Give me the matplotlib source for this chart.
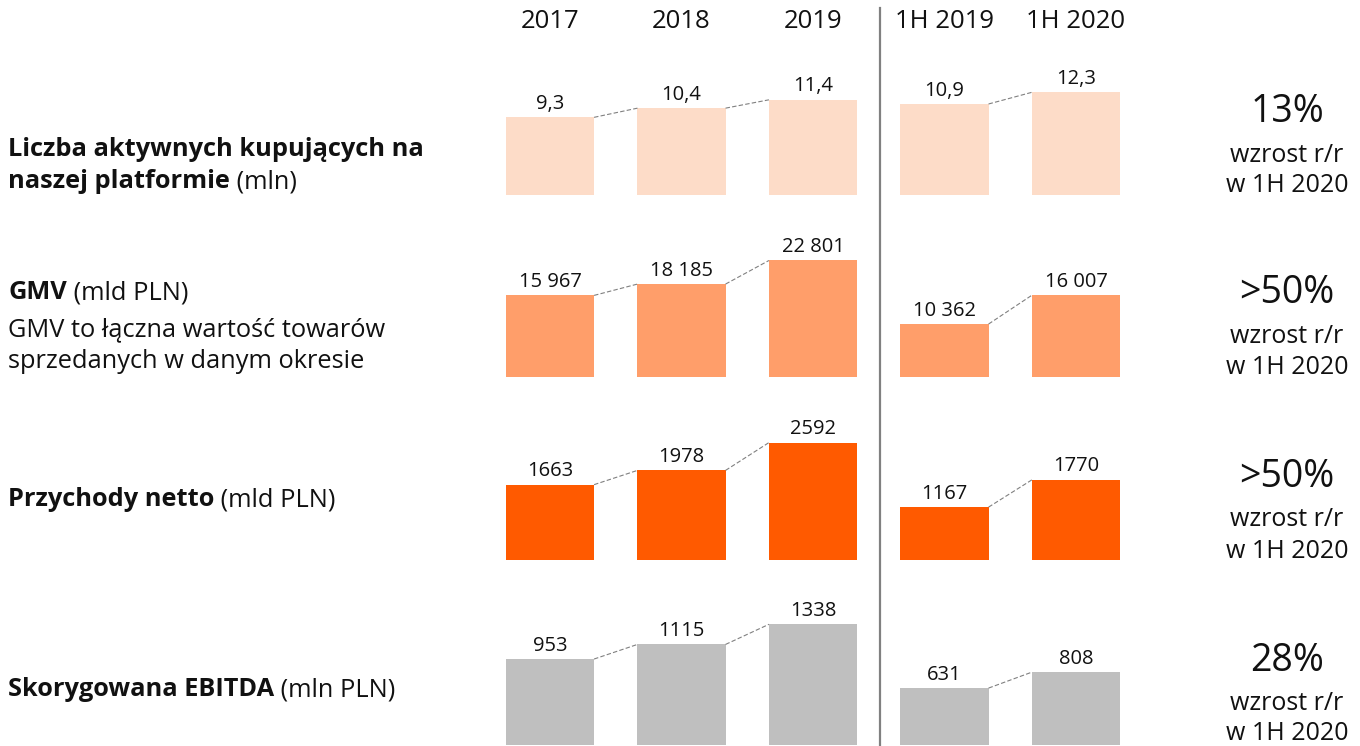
import matplotlib
matplotlib.use("Agg")
import matplotlib.pyplot as plt
from matplotlib.lines import Line2D

plt.rcParams['font.family'] = ['Open Sans', 'DejaVu Sans']

# ---- data ----
periods = ["2017", "2018", "2019", "1H 2019", "1H 2020"]
buyers = [9.3, 10.4, 11.4, 10.9, 12.3]
gmv = [15967, 18185, 22801, 10362, 16007]
revenue = [1663, 1978, 2592, 1167, 1770]
ebitda = [953, 1115, 1338, 631, 808]

row_titles_bold = ["Liczba aktywnych kupujących na\nnaszej platformie", "GMV", "Przychody netto", "Skorygowana EBITDA"]
row_titles_unit = ["(mln)", "(mld PLN)", "(mld PLN)", "(mln PLN)"]
gmv_note = ["GMV to łączna wartość towarów", "sprzedanych w danym okresie"]
growth = ["13%", ">50%", ">50%", "28%"]
growth_sub = ["wzrost r/r", "w 1H 2020"]

W, H = 1360, 746
fig = plt.figure(figsize=(W / 100, H / 100), dpi=100)

def fx(px):
    return px / W

def fy(py):
    return 1 - py / H

colors = ["#FDDCC8", "#FF9E6A", "#FF5A00", "#BFBFBF"]
series = [buyers, gmv, revenue, ebitda]
fmts = [lambda v: f"{v:.1f}".replace(".", ","),
        lambda v: f"{v:,}".replace(",", " "),
        lambda v: str(v),
        lambda v: str(v)]
bottoms_px = [195, 377, 560, 745]
scales = [8.35, 0.00511, 0.0453, 0.0902]  # px per unit
AX_H = 150
x = list(range(len(periods)))
bw = 0.67
groups = [(0, 1), (1, 2), (3, 4)]
TXT = "#111111"

for r in range(4):
    ax = fig.add_axes([fx(484.25), fy(bottoms_px[r]), fx(657.5), AX_H / H])
    ax.set_xlim(-0.5, 4.5)
    ax.set_ylim(0, AX_H / scales[r])
    ax.axis("off")
    vals = series[r]
    ax.bar(x, vals, width=bw, color=colors[r], edgecolor="none")
    for xi, v in zip(x, vals):
        ax.annotate(fmts[r](v), (xi, v), xytext=(0, 2.5), textcoords="offset points",
                    ha="center", va="bottom", fontsize=14.5, color=TXT,
                    annotation_clip=False)
    for a, b in groups:
        ax.plot([x[a] + bw / 2, x[b] - bw / 2], [vals[a], vals[b]],
                ls=(0, (4, 2)), lw=0.8, color="#808080", clip_on=False)

# period labels
for xi, p in zip(x, periods):
    cx = 550 + xi * 131.5
    fig.text(fx(cx), fy(22), p, ha="center", va="center", fontsize=18.5, color=TXT)

# divider
fig.add_artist(Line2D([fx(880), fx(880)], [fy(8), fy(746)], color="#808080", lw=1.6))

# left labels
title_y = [166, 293, 500, 690]
FS_L = 18.3
for r in range(4):
    lines = row_titles_bold[r].split("\n")
    n = len(lines)
    lh = 32
    y0 = title_y[r] - (n - 1) * lh / 2
    for i, ln in enumerate(lines):
        t = fig.text(fx(8), fy(y0 + i * lh), ln, ha="left", va="center",
                     fontsize=FS_L, fontweight="bold", color=TXT)
        if i == n - 1:
            fig.add_artist(plt.Annotation(" " + row_titles_unit[r], xy=(1, 0), xycoords=t,
                                          ha="left", va="bottom", fontsize=FS_L, color=TXT,
                                          annotation_clip=False))
for i, ln in enumerate(gmv_note):
    fig.text(fx(8), fy(330 + i * 32), ln, ha="left", va="center", fontsize=FS_L, color=TXT)

# right labels
right_y = [(112, 155, 186), (293, 336, 367), (477, 520, 551), (661, 703, 733)]
for r in range(4):
    yb, y1, y2 = right_y[r]
    fig.text(fx(1287), fy(yb), growth[r], ha="center", va="center",
             fontsize=27, color=TXT)
    fig.text(fx(1287), fy(y1), growth_sub[0], ha="center", va="center",
             fontsize=18, color=TXT)
    fig.text(fx(1287), fy(y2), growth_sub[1], ha="center", va="center",
             fontsize=18, color=TXT)

fig.savefig("out.png", dpi=100)
